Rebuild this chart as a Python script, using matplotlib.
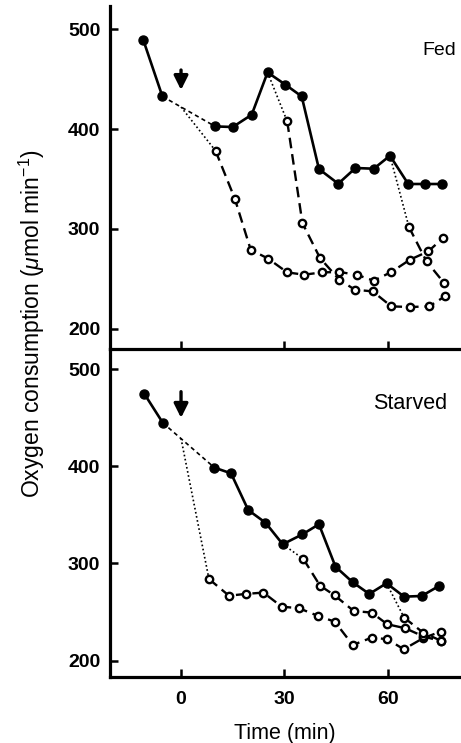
import matplotlib
matplotlib.use('Agg')
import matplotlib.pyplot as plt

plt.rcParams['font.family'] = ['Liberation Sans', 'DejaVu Sans']
plt.rcParams['mathtext.fontset'] = 'custom'
plt.rcParams['mathtext.rm'] = 'Liberation Sans'
plt.rcParams['mathtext.it'] = 'Liberation Sans:italic'

# Fed: filled circles (control run)
fed_t = [-10.9, -5.4, 9.9, 15.0, 20.5, 25.1, 30.3, 35.0, 40.0, 45.6, 50.6, 55.9, 60.6, 65.9, 70.7, 75.6]
fed_v = [488.6, 432.6, 402.6, 402.0, 414.3, 456.6, 444.3, 432.6, 360.0, 345.3, 361.0, 360.3, 373.3, 345.0, 345.0, 345.0]
# Fed: open circles, branches (first value = branch point on the filled line)
fed_a_t = [0.0, 10.0, 15.6, 20.2, 25.3, 30.8, 35.7, 40.8, 45.9, 50.9, 55.9, 61.0, 66.4, 71.7, 76.0]
fed_a_v = [422.0, 378.3, 330.3, 279.3, 270.3, 256.6, 254.3, 256.6, 257.0, 254.3, 248.3, 257.0, 269.3, 277.6, 291.0]
fed_b_t = [25.1, 30.8, 35.2, 40.3, 45.9, 50.4, 55.6, 61.0, 66.4, 72.0, 76.5]
fed_b_v = [456.6, 407.6, 306.0, 271.0, 249.3, 239.3, 237.6, 222.6, 222.0, 222.6, 232.6]
fed_c_t = [60.6, 66.1, 71.2, 76.3]
fed_c_v = [373.3, 302.0, 267.6, 246.0]

# Starved
st_t = [-10.6, -5.3, 9.7, 14.5, 19.5, 24.5, 29.5, 35.2, 40.0, 44.8, 49.8, 54.6, 59.6, 64.7, 69.8, 74.8]
st_v = [474.6, 445.0, 398.7, 392.9, 355.0, 342.0, 319.8, 330.0, 340.4, 296.7, 280.6, 268.6, 279.6, 265.8, 266.5, 276.8]
st_a_t = [0.0, 8.1, 13.9, 18.7, 23.9, 29.2, 34.2, 39.8, 44.6, 49.8, 55.3, 59.8, 64.6, 70.2, 75.3]
st_a_v = [428.9, 284.0, 266.8, 268.6, 270.0, 255.5, 253.9, 245.9, 240.0, 216.0, 223.6, 222.0, 211.6, 223.0, 229.8]
st_b_t = [29.5, 35.5, 40.3, 44.6, 50.1, 55.3, 59.8, 65.0, 70.2, 75.3]
st_b_v = [319.8, 304.6, 277.2, 267.0, 251.0, 249.4, 237.4, 233.3, 225.0, 220.0]
st_c_t = [59.6, 64.7, 70.2, 75.3]
st_c_v = [279.6, 244.2, 228.8, 220.5]

xticks = [0, 30, 60]
yticks = [200, 300, 400, 500]

fig = plt.figure(figsize=(4.61, 7.43), dpi=100)
ax1 = fig.add_axes([0.2386, 0.5303, 0.7614, 0.4616])
ax2 = fig.add_axes([0.2386, 0.0888, 0.7614, 0.4415])


def panel(ax, t, v, branches, label, lx, ly, fs, arrow, ylim):
    # filled series: solid, with dashed gap over the addition
    ax.plot(t[:2], v[:2], '-', color='black', lw=1.9, zorder=3)
    ax.plot(t[1:3], v[1:3], color='black', lw=1.2, dashes=(2.5, 2), zorder=2)
    ax.plot(t[2:], v[2:], '-', color='black', lw=1.9, zorder=3)
    ax.plot(t, v, 'o', color='black', ms=6.5, zorder=5)
    for bt, bv in branches:
        ax.plot(bt[:2], bv[:2], color='black', lw=1.2, dashes=(1, 1.5), zorder=2)
        ax.plot(bt[1:], bv[1:], color='black', lw=1.7, dashes=(4.5, 2.5), zorder=2)
        ax.plot(bt[1:], bv[1:], 'o', mfc='white', mec='black', mew=1.7, ms=5.3, zorder=4)
    ax.annotate('', xy=(0, arrow[1]), xytext=(0, arrow[0]),
                arrowprops=dict(arrowstyle='-|>', lw=2.4, color='black', mutation_scale=21,
                                shrinkA=0, shrinkB=0))
    ax.text(lx, ly, label, ha='center', va='center', fontsize=fs)
    ax.set_xlim(-20.6, 81.2)
    ax.set_ylim(*ylim)
    ax.set_xticks(xticks)
    ax.set_yticks(yticks)
    for s in ['top', 'right']:
        ax.spines[s].set_visible(False)
    for s in ['left', 'bottom']:
        ax.spines[s].set_linewidth(2.3)
    ax.tick_params(direction='in', length=5.5, width=1.8, labelsize=14, pad=7)
    for lab in ax.get_yticklabels() + ax.get_xticklabels():
        lab.set_fontweight('bold')
    ax.patch.set_alpha(0)


panel(ax1, fed_t, fed_v, [(fed_a_t, fed_a_v), (fed_b_t, fed_b_v), (fed_c_t, fed_c_v)],
      'Fed', 75.0, 479.0, 14, (459, 439), (180, 523))
panel(ax2, st_t, st_v, [(st_a_t, st_a_v), (st_b_t, st_b_v), (st_c_t, st_c_v)],
      'Starved', 66.4, 465.3, 15.5, (477, 450), (183, 521))
ax1.tick_params(axis='x', labelbottom=False)
ax2.tick_params(axis='x', pad=10)

fig.text(32 / 461, 0.565, r'Oxygen consumption ($\mu$mol min$^{-1}$)', rotation=90,
         ha='center', va='center', fontsize=16.5)
fig.text(285 / 461, 1 - 733 / 743, 'Time (min)', ha='center', va='center', fontsize=15.5)

fig.savefig('out.png', dpi=100)
